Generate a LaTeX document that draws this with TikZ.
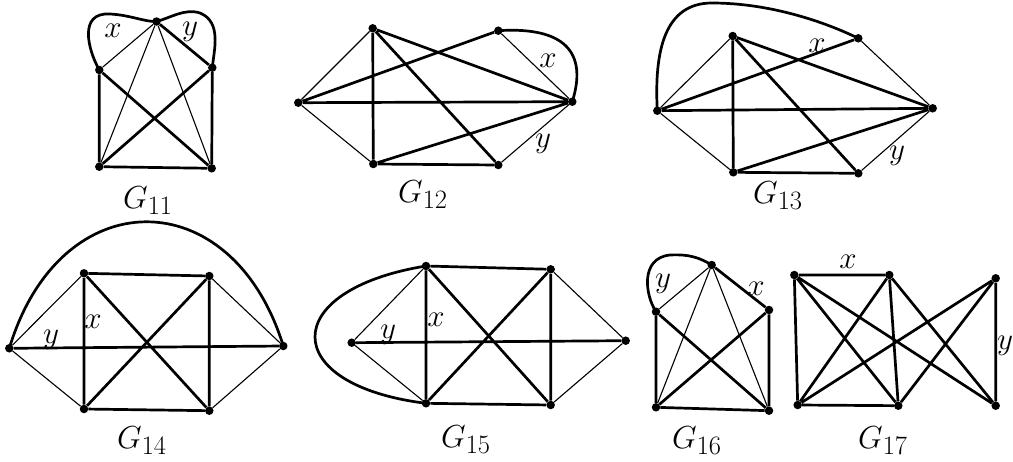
\documentclass[tikz,border=0pt]{standalone}
\begin{document}
\begin{tikzpicture}[x=1pt,y=-1pt,
  vtx/.style={circle,fill=black,inner sep=0pt,minimum size=8.5pt},
  thk/.style={line width=2.7pt},
  thn/.style={line width=1.1pt},
  lbl/.style={font=\Huge,inner sep=0pt,scale=1.25},
  gcap/.style={font=\Huge,inner sep=0pt,scale=1.28}]
\useasboundingbox (0,0) rectangle (1013,461);
% ---------------- G11
\node[vtx] (a1) at (156.5,21.5) {};
\node[vtx] (a2) at (99.3,70) {};
\node[vtx] (a3) at (212.3,67.7) {};
\node[vtx] (a4) at (99.3,166.7) {};
\node[vtx] (a5) at (211.7,168.3) {};
\draw[thn] (a1)--(a2) (a1)--(a4) (a1)--(a5);
\draw[thk] (a1)--(a3) (a2)--(a4) (a3)--(a5) (a2)--(a5) (a3)--(a4) (a4)--(a5);
\draw[thk] (a2.center) .. controls (88,50) and (78,12) .. (110,14) .. controls (130,15) and (145,22) .. (a1.center);
\draw[thk] (a1.center) .. controls (170,18) and (185,8) .. (200,13) .. controls (222,22) and (214,50) .. (a3.center);
\node[lbl] (x11) at (113,31) {$x$};
\node[lbl] (y11) at (190,32) {$y$};
\node[gcap] (g11) at (148,201) {$G_{11}$};
% ---------------- G12
\node[vtx] (b1) at (372.7,28.3) {};
\node[vtx] (b2) at (498.3,30.7) {};
\node[vtx] (b3) at (298.3,102.7) {};
\node[vtx] (b4) at (572.3,101.7) {};
\node[vtx] (b5) at (373.3,164) {};
\node[vtx] (b6) at (498.3,165) {};
\draw[thn] (b3)--(b1) (b3)--(b5) (b2)--(b4) (b6)--(b4);
\draw[thk] (b1)--(b5) (b1)--(b4) (b1)--(b6) (b3)--(b2) (b3)--(b4) (b5)--(b4) (b5)--(b6);
\draw[thk] (b2.center) .. controls (555,27) and (590,45) .. (b4.center);
\node[lbl] (x12) at (548,61) {$x$};
\node[lbl] (y12) at (543,144) {$y$};
\node[gcap] (g12) at (423,195) {$G_{12}$};
% ---------------- G13
\node[vtx] (c1) at (732.7,36) {};
\node[vtx] (c2) at (858.3,38.3) {};
\node[vtx] (c3) at (657.3,110.7) {};
\node[vtx] (c4) at (932.7,108.3) {};
\node[vtx] (c5) at (733.3,172.3) {};
\node[vtx] (c6) at (858.3,173.3) {};
\draw[thn] (c3)--(c1) (c3)--(c5) (c2)--(c4) (c6)--(c4);
\draw[thk] (c1)--(c5) (c1)--(c4) (c1)--(c6) (c3)--(c2) (c3)--(c4) (c5)--(c4) (c5)--(c6);
\draw[thk] (c3.center) .. controls (654,50) and (665,3) .. (712,3) .. controls (770,3) and (825,22) .. (c2.center);
\node[lbl] (x13) at (817,46) {$x$};
\node[lbl] (y13) at (897,156) {$y$};
\node[gcap] (g13) at (778,196) {$G_{13}$};
% ---------------- G14
\node[vtx] (d1) at (84,273.3) {};
\node[vtx] (d2) at (209.3,276) {};
\node[vtx] (d3) at (9.3,348.3) {};
\node[vtx] (d4) at (283.3,346) {};
\node[vtx] (d5) at (84,409) {};
\node[vtx] (d6) at (209.3,410.7) {};
\draw[thn] (d3)--(d1) (d3)--(d5) (d2)--(d4) (d6)--(d4);
\draw[thk] (d1)--(d2) (d1)--(d5) (d2)--(d6) (d5)--(d6) (d1)--(d6) (d2)--(d5) (d3)--(d4);
\draw[thk] (d3.center) .. controls (60,180) and (232,180) .. (d4.center);
\node[lbl] (x14) at (93,322) {$x$};
\node[lbl] (y14) at (51,340) {$y$};
\node[gcap] (g14) at (142,441) {$G_{14}$};
% ---------------- G15
\node[vtx] (e1) at (426,266) {};
\node[vtx] (e2) at (550.7,269.3) {};
\node[vtx] (e3) at (351.7,342.7) {};
\node[vtx] (e4) at (625.7,340.7) {};
\node[vtx] (e5) at (426,403.3) {};
\node[vtx] (e6) at (550.7,405) {};
\draw[thn] (e3)--(e1) (e3)--(e5) (e2)--(e4) (e6)--(e4);
\draw[thk] (e1)--(e2) (e1)--(e5) (e2)--(e6) (e5)--(e6) (e1)--(e6) (e2)--(e5) (e3)--(e4);
\draw[thk] (e1.center) .. controls (278,290) and (278,385) .. (e5.center);
\node[lbl] (x15) at (436,320) {$x$};
\node[lbl] (y15) at (388,335) {$y$};
\node[gcap] (g15) at (466,440) {$G_{15}$};
% ---------------- G16
\node[vtx] (f1) at (711.7,265) {};
\node[vtx] (f2) at (656,311.7) {};
\node[vtx] (f3) at (769,310) {};
\node[vtx] (f4) at (656,407.3) {};
\node[vtx] (f5) at (769,410.7) {};
\draw[thn] (f1)--(f2) (f1)--(f4) (f1)--(f5);
\draw[thk] (f1)--(f3) (f2)--(f4) (f3)--(f5) (f2)--(f5) (f3)--(f4) (f4)--(f5);
\draw[thk] (f2.center) .. controls (645,295) and (640,258) .. (670,255) .. controls (690,254) and (700,258) .. (f1.center);
\node[lbl] (y16) at (663,284) {$y$};
\node[lbl] (x16) at (756,289) {$x$};
\node[gcap] (g16) at (697,441) {$G_{16}$};
% ---------------- G17
\node[vtx] (h1) at (794.3,275) {};
\node[vtx] (h2) at (889.3,275) {};
\node[vtx] (h3) at (995.7,278.3) {};
\node[vtx] (h4) at (797.7,405) {};
\node[vtx] (h5) at (898.3,405.7) {};
\node[vtx] (h6) at (995.7,405.7) {};
\draw[thk] (h1)--(h2) (h1)--(h4) (h1)--(h5) (h1)--(h6) (h2)--(h4) (h2)--(h5) (h2)--(h6)
  (h3)--(h4) (h3)--(h5) (h3)--(h6) (h4)--(h5);
\node[lbl] (x17) at (848,262) {$x$};
\node[lbl] (y17) at (1005,346) {$y$};
\node[gcap] (g17) at (883,441) {$G_{17}$};
\end{tikzpicture}
\end{document}
